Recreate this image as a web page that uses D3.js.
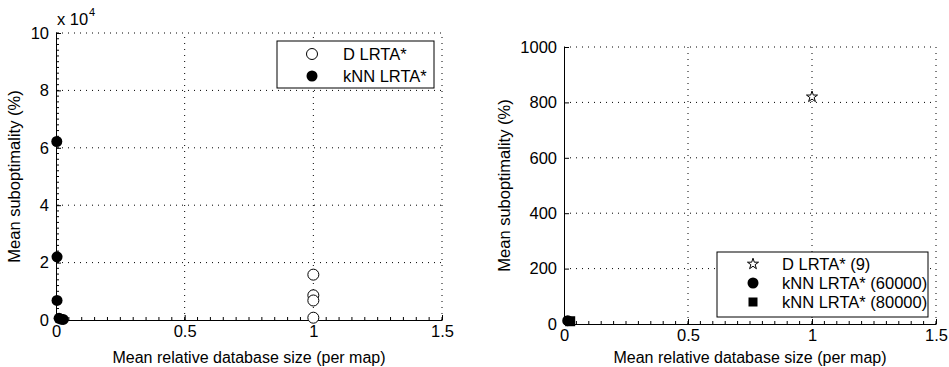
<!DOCTYPE html>
<html>
<head>
<meta charset="utf-8">
<script src="https://cdn.jsdelivr.net/npm/d3@7"></script>
<style>
  body { margin: 0; background: #fff; }
  svg { font-family: "Liberation Sans", Arial, Helvetica, sans-serif; }
  .grid line { stroke: #000; stroke-width: 1; stroke-dasharray: 1,5; }
</style>
</head>
<body>
<div id="chart"></div>
<script>
// left panel (values in units of 10^4)
const dLrtaX = [1, 1, 1, 1];
const dLrtaY = [1.58, 0.86, 0.68, 0.08];
const knnX = [0.003, 0.004, 0.004, 0.012, 0.02, 0.028];
const knnY = [6.22, 2.2, 0.68, 0.06, 0.03, 0.02];

// right panel
const dLrta9X = [1];
const dLrta9Y = [820];
const knn60kX = [0.015];
const knn60kY = [12];
const knn80kX = [0.025];
const knn80kY = [10];

const xTicks = [0, 0.5, 1, 1.5];
const leftYTicks = [0, 2, 4, 6, 8, 10];
const rightYTicks = [0, 200, 400, 600, 800, 1000];

const width = 949, height = 367;
const fs = 16.5;
const svg = d3.select('#chart').append('svg')
  .attr('width', width).attr('height', height);

function panel(opts) {
  const x = d3.scaleLinear().domain([0, 1.5]).range([opts.x0, opts.x1]);
  const y = d3.scaleLinear().domain(opts.yDomain).range([opts.y0, opts.y1]);
  const g = svg.append('g');

  // dotted grid
  const grid = g.append('g').attr('class', 'grid');
  grid.selectAll('.gx').data(xTicks.slice(1)).enter().append('line')
    .attr('x1', d => x(d)).attr('x2', d => x(d))
    .attr('y1', opts.y0).attr('y2', opts.y1);
  grid.selectAll('.gy').data(opts.yTicks.slice(1)).enter().append('line')
    .attr('x1', opts.x0).attr('x2', opts.x1)
    .attr('y1', d => y(d)).attr('y2', d => y(d));

  // axes, ticks inward
  const xAxis = d3.axisBottom(x).tickValues(xTicks).tickSizeInner(-5).tickSizeOuter(0)
    .tickPadding(5).tickFormat(d3.format('~g'));
  const yAxis = d3.axisLeft(y).tickValues(opts.yTicks).tickSizeInner(-5).tickSizeOuter(0)
    .tickPadding(7).tickFormat(d3.format('~g'));
  const gx = g.append('g').attr('transform', `translate(0,${opts.y0})`).call(xAxis);
  const gy = g.append('g').attr('transform', `translate(${opts.x0},0)`).call(yAxis);
  [gx, gy].forEach(a => {
    a.selectAll('text').attr('font-size', 16.5).attr('fill', '#000');
    a.select('.domain').attr('stroke', '#000');
    a.selectAll('line').attr('stroke', '#000');
  });

  // minor ticks
  if (opts.xMinor) {
    g.append('g').selectAll('line').data(d3.range(0, 1.5001, opts.xMinor)).enter().append('line')
      .attr('x1', d => x(d)).attr('x2', d => x(d))
      .attr('y1', opts.y0).attr('y2', opts.y0 - 3).attr('stroke', '#000');
  }
  if (opts.yMinor) {
    const [a, b] = opts.yDomain;
    g.append('g').selectAll('line').data(d3.range(a, b + 1e-9, opts.yMinor)).enter().append('line')
      .attr('x1', opts.x0).attr('x2', opts.x0 + 3)
      .attr('y1', d => y(d)).attr('y2', d => y(d)).attr('stroke', '#000');
  }

  // axis labels
  g.append('text').attr('x', (opts.x0 + opts.x1) / 2).attr('y', 362.5)
    .attr('text-anchor', 'middle').attr('font-size', 16)
    .text('Mean relative database size (per map)');
  g.append('text')
    .attr('transform', `translate(${opts.yLabelX},${(opts.y0 + opts.y1) / 2}) rotate(-90)`)
    .attr('text-anchor', 'middle').attr('font-size', fs)
    .text('Mean suboptimality (%)');

  return { x, y, g };
}

// ---- left panel
const L = panel({ x0: 56, x1: 442, y0: 320, y1: 33, yDomain: [0, 10],
  yTicks: leftYTicks, xMinor: 0.05, yMinor: 0.2, yLabelX: 20 });

L.g.append('text').attr('x', 57).attr('y', 25).attr('font-size', fs).text('x 10');
L.g.append('text').attr('x', 89).attr('y', 16).attr('font-size', 11).text('4');

L.g.selectAll('.d').data(d3.zip(dLrtaX, dLrtaY)).enter().append('circle')
  .attr('cx', d => L.x(d[0])).attr('cy', d => L.y(d[1])).attr('r', 5.5)
  .attr('fill', '#fff').attr('stroke', '#000');
L.g.selectAll('.k').data(d3.zip(knnX, knnY)).enter().append('circle')
  .attr('cx', d => L.x(d[0])).attr('cy', d => L.y(d[1])).attr('r', 5.5)
  .attr('fill', '#000');

// left legend
const ll = L.g.append('g');
ll.append('rect').attr('x', 277).attr('y', 41).attr('width', 157).attr('height', 47)
  .attr('fill', '#fff').attr('stroke', '#000');
ll.append('circle').attr('cx', 312).attr('cy', 54).attr('r', 5.5).attr('fill', '#fff').attr('stroke', '#000');
ll.append('circle').attr('cx', 312).attr('cy', 76).attr('r', 5.5).attr('fill', '#000');
ll.append('text').attr('x', 343).attr('y', 60).attr('font-size', fs).text('D LRTA*');
ll.append('text').attr('x', 343).attr('y', 82).attr('font-size', fs).text('kNN LRTA*');

// ---- right panel
const R = panel({ x0: 564, x1: 936, y0: 324, y1: 47, yDomain: [0, 1000],
  yTicks: rightYTicks, xMinor: 0.05, yMinor: null, yLabelX: 510 });

const star = d3.symbol().type(d3.symbolStar).size(38);
R.g.selectAll('.s').data(d3.zip(dLrta9X, dLrta9Y)).enter().append('path')
  .attr('d', star).attr('transform', d => `translate(${R.x(d[0])},${R.y(d[1])})`)
  .attr('fill', '#fff').attr('stroke', '#000');
R.g.selectAll('.c').data(d3.zip(knn60kX, knn60kY)).enter().append('circle')
  .attr('cx', d => R.x(d[0])).attr('cy', d => R.y(d[1])).attr('r', 5.5).attr('fill', '#000');
R.g.selectAll('.q').data(d3.zip(knn80kX, knn80kY)).enter().append('rect')
  .attr('x', d => R.x(d[0]) - 5).attr('y', d => R.y(d[1]) - 5)
  .attr('width', 10).attr('height', 10).attr('fill', '#000');

// right legend
const rl = R.g.append('g');
rl.append('rect').attr('x', 717).attr('y', 252).attr('width', 211).attr('height', 65)
  .attr('fill', '#fff').attr('stroke', '#000');
rl.append('path').attr('d', star).attr('transform', 'translate(753,264)')
  .attr('fill', '#fff').attr('stroke', '#000');
rl.append('circle').attr('cx', 753).attr('cy', 283).attr('r', 5.5).attr('fill', '#000');
rl.append('rect').attr('x', 748.5).attr('y', 297.5).attr('width', 9).attr('height', 9).attr('fill', '#000');
rl.append('text').attr('x', 782).attr('y', 270).attr('font-size', fs).text('D LRTA* (9)');
rl.append('text').attr('x', 782).attr('y', 289).attr('font-size', fs).text('kNN LRTA* (60000)');
rl.append('text').attr('x', 782).attr('y', 308).attr('font-size', fs).text('kNN LRTA* (80000)');
</script>
</body>
</html>
